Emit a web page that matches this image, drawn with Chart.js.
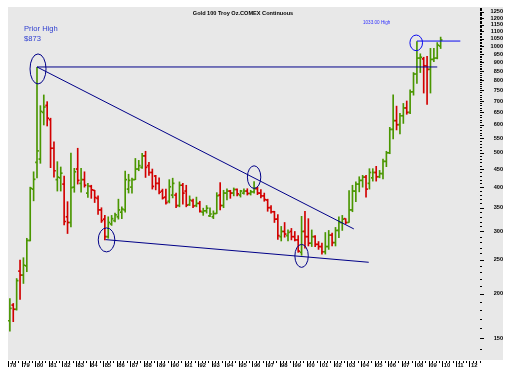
<!DOCTYPE html>
<html><head><meta charset="utf-8">
<script src="https://cdn.jsdelivr.net/npm/chart.js@4.4.1/dist/chart.umd.min.js"></script>
<style>html,body{margin:0;padding:0;background:#fff;}canvas{display:block;}</style>
</head><body>
<canvas id="c" width="513" height="379"></canvas>
<script>
// ---- data (quarterly bars, 1978 Q1 ... 2009 Q4) ----
const yearLabels = ['78','79','80','81','82','83','84','85','86','87','88','89','90','91','92','93','94','95','96','97','98','99','00','01','02','03','04','05','06','07','08','09','10','11','12'];
const opens = [168,186,181,232,226,240,283,395,470,480, 650,680,620,515,420,425,408,330,318,400, 450,410,420,385,402,392,372,345,325,290, 315,322,330,340,345,395,400,420,450,455, 490,460,440,430,410,390,375,365,380,380, 355,405,390,357,366,355,360,340,343,332, 330,337,380,355,385,390,385,394,380,385, 390,384,388,396,385,378,368,350,341,325, 290,300,292,300,290,284,262,300,290,278, 290,276,272,263,272,293,279,302,318,326, 318,345,390,408,418,427,410,425,440,428, 437,473,500,582,616,600,636,669,650,743, 834,925,920,880,860,917,925,1000];
const highs = [194,188,221,249,253,287,400,442,871,679, 728,697,626,537,472,456,430,364,499,452, 515,452,442,410,405,392,378,350,333,330, 333,338,370,352,444,435,424,482,476,498, 505,470,450,432,425,395,395,420,424,385, 414,410,405,378,370,375,365,349,355,350, 343,386,412,392,396,392,398,396,392,396, 396,392,415,400,394,385,370,355,342,335, 310,318,303,306,300,292,331,342,326,303, 292,281,278,298,302,297,308,330,333,326, 391,405,414,428,432,432,451,451,458,446, 480,505,590,729,677,646,689,700,752,842, 1030,951,930,936,985,985,1023,1060];
const lows = [157,167,180,193,214,231,282,366,425,467, 599,595,454,427,390,390,313,296,309,387, 408,387,400,374,372,362,335,318,284,287, 312,319,325,326,340,385,385,420,445,452, 426,432,395,393,383,370,358,361,373,350, 352,358,352,355,350,352,340,333,338,330, 326,337,345,350,368,372,378,378,375,382, 380,380,385,381,373,365,342,338,318,285, 282,289,282,284,282,262,257,269,273,272, 272,267,259,259,267,273,273,288,302,315, 318,341,364,388,400,375,395,416,416,425, 422,457,497,547,580,565,605,642,645,727, 784,842,737,685,737,904,920,984];
const closes = [182,181,218,226,241,283,397,421,506,654, 673,626,515,445,427,438,320,318,399,442, 418,420,405,403,393,374,345,322,290,318, 326,334,345,347,420,418,420,450,460,490, 455,440,402,410,387,373,362,401,410,355, 405,385,356,368,354,360,342,343,349,336, 337,378,355,385,390,385,394,383,390,390, 384,388,396,385,378,369,350,341,325,292, 300,295,298,290,284,264,300,290,278,290, 276,272,263,272,293,279,302,318,325,318, 345,390,408,418,427,395,440,440,428,437, 473,500,582,616,600,636,669,650,743,834, 925,930,880,860,917,925,1006,1040];

// annotation data (x = quarter index from 1978 Q1, y = price)
const priorHigh = 873;
const recentHigh = 1033;
const priorHighLine = [{x: 8, y: priorHigh}, {x: 126, y: priorHigh}];
const resistanceLine = [{x: 8, y: priorHigh}, {x: 101.4, y: 305}];
const supportLine = [{x: 28.2, y: 284.5}, {x: 105.8, y: 245.6}];
const recentHighLine = [{x: 120, y: recentHigh}, {x: 132.8, y: recentHigh}];
const circled = [{x: 8.3, y: 862}, {x: 28.5, y: 284}, {x: 72, y: 427}, {x: 86, y: 256}, {x: 119.8, y: 1021}];

// ---- styles ----
const GREEN = '#4a9600', RED = '#d20000', NAVY = '#000088', BLUE = '#0a0af0', BG = '#e8e8e8';
const ellipseStyle = [[8,15,NAVY],[8.3,12,NAVY],[6.7,11.3,NAVY],[6.7,11.5,NAVY],[6.3,7.8,BLUE]];
const TICKF = 1.0034;
const colorOf = i => closes[i] >= opens[i] ? GREEN : RED;
const FONT = 'Arial, "Liberation Sans", sans-serif';

const barDs = (label, fn) => ({
  type: 'bar', label,
  data: opens.map((o, i) => ({x: i, y: fn(i)})),
  backgroundColor: ctx => colorOf(ctx.dataIndex),
  borderWidth: 0, barThickness: 1, order: 2
});
const lineDs = (data, color) => ({
  type: 'line', data, borderColor: color, borderWidth: 1, pointRadius: 0,
  fill: false, tension: 0, order: 1
});

const decor = {
  id: 'decor',
  beforeDraw(chart) {
    const {ctx, chartArea: a} = chart;
    const ys = chart.scales.y;
    ctx.save();
    ctx.fillStyle = '#fff'; ctx.fillRect(0, 0, chart.width, chart.height);
    ctx.fillStyle = BG; ctx.fillRect(a.left, a.top, ys.right - a.left, a.bottom - a.top);
    ctx.restore();
  },
  afterDatasetsDraw(chart) {
    const {ctx} = chart, xs = chart.scales.x, ys = chart.scales.y;
    ctx.save();
    circled.forEach((p, k) => {
      const [rx, ry, col] = ellipseStyle[k];
      ctx.beginPath();
      ctx.ellipse(xs.getPixelForValue(p.x), ys.getPixelForValue(p.y), rx, ry, 0, 0, Math.PI * 2);
      ctx.strokeStyle = col; ctx.lineWidth = 1; ctx.stroke();
    });
    ctx.restore();
  },
  afterDraw(chart) {
    const {ctx, chartArea: a} = chart, xs = chart.scales.x, ys = chart.scales.y;
    ctx.save();
    ctx.fillStyle = '#000';
    ys.ticks.forEach(t => {
      const y = Math.round(ys.getPixelForValue(t.value));
      const major = t.value % 50 === 0;
      ctx.fillRect(Math.round(ys.left), y, major ? 4 : 2, 1);
    });
    for (let q = 0; q <= yearLabels.length * 4 - 1; q++) {
      const x = Math.round(xs.getPixelForValue(q - 0.5));
      if (x > ys.left) break;
      ctx.fillRect(x, a.bottom + 1, 1, q % 4 === 0 ? 6 : 2);
    }
    ctx.textBaseline = 'middle';
    ctx.fillStyle = '#000';
    ctx.font = 'bold 5.6px ' + FONT;
    ctx.textAlign = 'center';
    ctx.fillText('Gold 100 Troy Oz.COMEX Continuous', 243, 13);
    ctx.fillStyle = '#2f3fd0';
    ctx.textAlign = 'left';
    ctx.font = '7.6px ' + FONT;
    ctx.fillText('Prior High', 24, 29);
    ctx.fillText('$873', 24, 38.5);
    ctx.fillStyle = '#3030ff';
    ctx.font = '4.6px ' + FONT;
    ctx.fillText('1033.00 High', 363, 22.5);
    ctx.restore();
  }
};

new Chart(document.getElementById('c'), {
  data: {
    datasets: [
      barDs('Open', i => [opens[i] / TICKF, opens[i] * TICKF]),
      barDs('High-Low', i => [lows[i], highs[i]]),
      barDs('Close', i => [closes[i] / TICKF, closes[i] * TICKF]),
      lineDs(priorHighLine, NAVY),
      lineDs(resistanceLine, NAVY),
      lineDs(supportLine, NAVY),
      lineDs(recentHighLine, BLUE)
    ]
  },
  options: {
    responsive: false, animation: false, devicePixelRatio: 1,
    layout: {padding: {left: 8, top: 7, right: 10, bottom: 7}},
    plugins: {legend: {display: false}, tooltip: {enabled: false}, title: {display: false}},
    scales: {
      x: {
        type: 'linear', min: -0.55, max: 138.6, offset: false,
        grid: {display: false, drawTicks: false}, border: {display: false},
        afterBuildTicks: s => { s.ticks = yearLabels.map((_, k) => ({value: 4 * k - 0.5})); },
        afterFit: s => { s.height = 12; s.paddingLeft = 0; s.paddingRight = 0; },
        ticks: {
          autoSkip: false, maxRotation: 0, align: 'start', padding: 2, labelOffset: 1.5,
          color: '#000', font: {size: 5.8, family: FONT, weight: 'bold'},
          callback: (v, i) => yearLabels[i]
        }
      },
      y: {
        type: 'logarithmic', position: 'right', min: 130.2, max: 1288.7,
        grid: {display: false, drawTicks: false}, border: {display: false},
        afterBuildTicks: s => { const t = []; for (let v = 140; v <= 1280; v += 10) t.push({value: v}); s.ticks = t; },
        afterFit: s => { s.width = 23; s.paddingTop = 0; s.paddingBottom = 0; },
        ticks: {
          autoSkip: false, padding: 9, crossAlign: 'far', color: '#000',
          font: {size: 5.6, family: FONT, weight: 'bold'},
          callback: v => (v % 50 === 0 ? String(v) : '')
        }
      }
    }
  },
  plugins: [decor]
});
</script>
</body></html>
